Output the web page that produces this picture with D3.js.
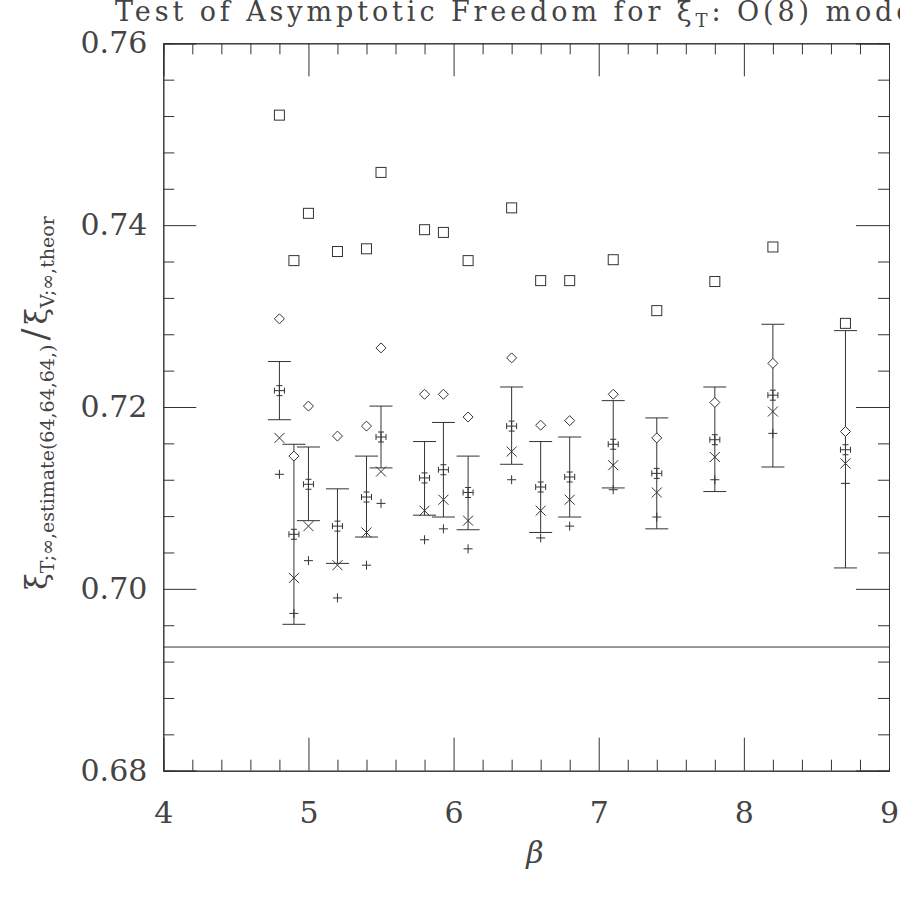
<!DOCTYPE html>
<html lang="en">
<head>
  <meta charset="UTF-8" />
  <script src="https://d3js.org/d3.v7.min.js"></script>
  <title>Test of Asymptotic Freedom</title>
  <style>
    body { margin: 0; background: #fff; }
    text { font-family: "DejaVu Serif", "Liberation Serif", serif; fill: #444; }
  </style>
</head>
<body>
  <svg width="900" height="900"></svg>

  <script>
    // beta values and the series
    const beta = [4.8, 4.9, 5.0, 5.2, 5.4, 5.5, 5.8, 5.93, 6.1, 6.4, 6.6, 6.8, 7.1, 7.4, 7.8, 8.2, 8.7];
    const squareVals = [0.7521, 0.7361, 0.7413, 0.7371, 0.7374, 0.7458, 0.7395, 0.7392, 0.7361, 0.7419, 0.7339, 0.7339, 0.7362, 0.7306, 0.7338, 0.7376, 0.7292];
    const diamondVals = [0.7297, 0.7146, 0.7201, 0.7168, 0.7179, 0.7265, 0.7214, 0.7214, 0.7189, 0.7254, 0.7180, 0.7185, 0.7214, 0.7166, 0.7205, 0.7248, 0.7173];
    const estimateVals = [0.7218, 0.7060, 0.7115, 0.7069, 0.7101, 0.7167, 0.7122, 0.7131, 0.7106, 0.7179, 0.7112, 0.7123, 0.7159, 0.7127, 0.7164, 0.7213, 0.7153];
    const estimateLow = [0.7186, 0.6961, 0.7075, 0.7028, 0.7057, 0.7133, 0.7081, 0.7079, 0.7065, 0.7137, 0.7062, 0.7079, 0.7111, 0.7066, 0.7107, 0.7134, 0.7023];
    const estimateHigh = [0.7250, 0.7159, 0.7156, 0.7110, 0.7146, 0.7201, 0.7162, 0.7183, 0.7146, 0.7222, 0.7162, 0.7167, 0.7207, 0.7188, 0.7222, 0.7291, 0.7284];
    const crossVals = [0.7166, 0.7012, 0.7069, 0.7026, 0.7062, 0.7129, 0.7086, 0.7098, 0.7075, 0.7151, 0.7086, 0.7098, 0.7136, 0.7106, 0.7145, 0.7195, 0.7138];
    const plusVals = [0.7126, 0.6973, 0.7031, 0.6990, 0.7026, 0.7094, 0.7054, 0.7066, 0.7044, 0.7120, 0.7056, 0.7069, 0.7109, 0.7079, 0.7120, 0.7171, 0.7116];
    const refLine = 0.6936;

    const xTicks = [4, 5, 6, 7, 8, 9];
    const yTicks = [0.68, 0.70, 0.72, 0.74, 0.76];

    const pl = 163.3, pr = 889, pt = 43.3, pb = 770.7;
    const ink = "#333";

    const x = d3.scaleLinear().domain([4, 9]).range([pl, pr]);
    const y = d3.scaleLinear().domain([0.68, 0.76]).range([pb, pt]);

    const xMinor = d3.range(4, 9.001, 0.2).filter(v => Math.abs(v - Math.round(v)) > 1e-6);
    const yMinor = d3.range(0.68, 0.76001, 0.004).filter(v => Math.abs(v * 50 - Math.round(v * 50)) > 1e-6);

    const svg = d3.select("svg");
    svg.append("rect").attr("width", 900).attr("height", 900).attr("fill", "#fff");

    // axes on all four sides: majors 33px, minors 11px, ticks pointing inwards
    function styleAxis(g) {
      g.selectAll("path, line").attr("stroke", ink).attr("stroke-width", 1);
      g.selectAll("text").attr("font-size", 30).attr("fill", "#444")
        .attr("font-family", "DejaVu Serif");
    }

    svg.append("g")
      .attr("transform", `translate(0,${pb})`)
      .call(d3.axisBottom(x).tickValues(xTicks).tickSize(-33).tickPadding(31).tickFormat(d3.format("d")))
      .call(styleAxis);
    svg.append("g")
      .attr("transform", `translate(0,${pb})`)
      .call(d3.axisBottom(x).tickValues(xMinor).tickSize(-11).tickFormat(""))
      .call(styleAxis);
    svg.append("g")
      .attr("transform", `translate(0,${pt})`)
      .call(d3.axisTop(x).tickValues(xTicks).tickSize(-33).tickFormat(""))
      .call(styleAxis);
    svg.append("g")
      .attr("transform", `translate(0,${pt})`)
      .call(d3.axisTop(x).tickValues(xMinor).tickSize(-11).tickFormat(""))
      .call(styleAxis);

    svg.append("g")
      .attr("transform", `translate(${pl},0)`)
      .call(d3.axisLeft(y).tickValues(yTicks).tickSize(-33).tickPadding(16).tickFormat(d3.format(".2f")))
      .call(styleAxis);
    svg.append("g")
      .attr("transform", `translate(${pl},0)`)
      .call(d3.axisLeft(y).tickValues(yMinor).tickSize(-11).tickFormat(""))
      .call(styleAxis);
    svg.append("g")
      .attr("transform", `translate(${pr},0)`)
      .call(d3.axisRight(y).tickValues(yTicks).tickSize(-33).tickFormat(""))
      .call(styleAxis);
    svg.append("g")
      .attr("transform", `translate(${pr},0)`)
      .call(d3.axisRight(y).tickValues(yMinor).tickSize(-11).tickFormat(""))
      .call(styleAxis);

    // reference line
    svg.append("line")
      .attr("x1", pl).attr("x2", pr)
      .attr("y1", y(refLine)).attr("y2", y(refLine))
      .attr("stroke", ink).attr("stroke-width", 1);

    const idx = d3.range(beta.length);
    const marks = svg.append("g")
      .attr("fill", "none")
      .attr("stroke", ink)
      .attr("stroke-width", 1);

    // big error bars with caps
    const capW = 11.5;
    marks.selectAll(".err")
      .data(idx)
      .join("path")
      .attr("class", "err")
      .attr("d", i => {
        const cx = x(beta[i]), y0 = y(estimateLow[i]), y1 = y(estimateHigh[i]);
        return `M${cx},${y0}V${y1}M${cx - capW},${y0}H${cx + capW}M${cx - capW},${y1}H${cx + capW}`;
      });

    // estimate glyph: small cross with caps
    marks.selectAll(".est")
      .data(idx)
      .join("path")
      .attr("class", "est")
      .attr("d", i => {
        const cx = x(beta[i]), cy = y(estimateVals[i]);
        const a = 5, c = 3;
        return `M${cx - a},${cy}H${cx + a}M${cx - a},${cy - c}V${cy + c}M${cx + a},${cy - c}V${cy + c}` +
          `M${cx},${cy - a}V${cy + a}M${cx - c},${cy - a}H${cx + c}M${cx - c},${cy + a}H${cx + c}`;
      });

    // squares
    marks.selectAll(".sq")
      .data(idx)
      .join("rect")
      .attr("class", "sq")
      .attr("x", i => x(beta[i]) - 5)
      .attr("y", i => y(squareVals[i]) - 5)
      .attr("width", 10)
      .attr("height", 10)
      .attr("fill", "#fff");

    // diamonds
    marks.selectAll(".dm")
      .data(idx)
      .join("path")
      .attr("class", "dm")
      .attr("fill", "#fff")
      .attr("d", i => {
        const cx = x(beta[i]), cy = y(diamondVals[i]), r = 5;
        return `M${cx},${cy - r}L${cx + r},${cy}L${cx},${cy + r}L${cx - r},${cy}Z`;
      });

    // X markers
    marks.selectAll(".xm")
      .data(idx)
      .join("path")
      .attr("class", "xm")
      .attr("d", i => {
        const cx = x(beta[i]), cy = y(crossVals[i]), r = 5;
        return `M${cx - r},${cy - r}L${cx + r},${cy + r}M${cx - r},${cy + r}L${cx + r},${cy - r}`;
      });

    // + markers
    marks.selectAll(".pm")
      .data(idx)
      .join("path")
      .attr("class", "pm")
      .attr("d", i => {
        const cx = x(beta[i]), cy = y(plusVals[i]), r = 4.5;
        return `M${cx - r},${cy}H${cx + r}M${cx},${cy - r}V${cy + r}`;
      });

    // title (runs past the right edge, as in the original)
    const title = svg.append("text")
      .attr("x", 115)
      .attr("y", 21)
      .attr("font-size", 27)
      .attr("letter-spacing", 3.9);
    title.append("tspan").text("Test of Asymptotic Freedom for ξ");
    title.append("tspan").attr("font-size", 18).attr("dy", 6).text("T");
    title.append("tspan").attr("dy", -6).text(": O(8) model");

    // x label
    svg.append("text")
      .attr("x", 535)
      .attr("y", 863)
      .attr("text-anchor", "middle")
      .attr("font-size", 30)
      .attr("font-style", "italic")
      .text("β");

    // y label
    const ylab = svg.append("text")
      .attr("transform", `translate(47,${(pt + pb) / 2 - 4}) rotate(-90)`)
      .attr("text-anchor", "middle")
      .attr("font-size", 30);
    ylab.append("tspan").text("ξ");
    ylab.append("tspan").attr("font-size", 19).attr("dy", 7).text("T;∞,estimate(64,64,64,)");
    ylab.append("tspan").attr("font-size", 36).attr("dy", -7).attr("dx", 4).text("/");
    ylab.append("tspan").attr("dx", 4).text("ξ");
    ylab.append("tspan").attr("font-size", 19).attr("dy", 7).text("V;∞,theor");
  </script>
</body>
</html>
